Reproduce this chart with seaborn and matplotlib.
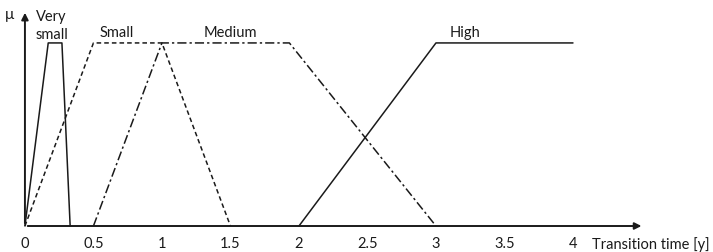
import matplotlib
matplotlib.use("Agg")
import matplotlib.pyplot as plt
import seaborn as sns

# membership functions (x = transition time in years, y = mu)
very_small_x = [0, 0.17, 0.27, 0.33]
very_small_y = [0, 1, 1, 0]
small_x = [0, 0.5, 1.0, 1.5]
small_y = [0, 1, 1, 0]
medium_x = [0.5, 1.0, 1.93, 3.0]
medium_y = [0, 1, 1, 0]
high_x = [2.0, 3.0, 4.0]
high_y = [0, 1, 1]

tick_vals = [0, 0.5, 1, 1.5, 2, 2.5, 3, 3.5, 4]
tick_labels = ["0", "0.5", "1", "1.5", "2", "2.5", "3", "3.5", "4"]

sns.set_theme(style="white")
plt.rcParams['font.family'] = ['Lato', 'DejaVu Sans']

fig = plt.figure(figsize=(7.13, 2.53), dpi=100)
ax = fig.add_axes([0, 0, 1, 1])
ax.set_xlim(-0.182, 5.022)
ax.set_ylim(-0.142, 1.240)
ax.axis('off')

lc = '#1a1a1a'
lw = 1.1
sns.lineplot(x=very_small_x, y=very_small_y, sort=False, ax=ax, color=lc, lw=lw, linestyle='-')
sns.lineplot(x=small_x, y=small_y, sort=False, ax=ax, color=lc, lw=lw, linestyle=(0, (3, 2)))
sns.lineplot(x=medium_x, y=medium_y, sort=False, ax=ax, color=lc, lw=lw, linestyle=(0, (6, 2, 1.5, 2)))
sns.lineplot(x=high_x, y=high_y, sort=False, ax=ax, color=lc, lw=lw, linestyle='-')

# axes with arrows
ax.annotate('', xy=(4.52, 0), xytext=(0, 0),
            arrowprops=dict(arrowstyle='-|>', color=lc, lw=1.4, mutation_scale=10))
ax.annotate('', xy=(0, 1.18), xytext=(0, 0),
            arrowprops=dict(arrowstyle='-|>', color=lc, lw=1.4, mutation_scale=10))

fs = 10.5
for v, t in zip(tick_vals, tick_labels):
    ax.text(v, -0.095, t, ha='center', va='center', fontsize=fs, color=lc)
ax.text(4.14, -0.095, 'Transition time [y]', ha='left', va='center', fontsize=fs, color=lc)
ax.text(-0.08, 1.16, 'μ', ha='right', va='center', fontsize=fs + 0.5, color=lc)
ax.text(0.08, 1.10, 'Very\nsmall', ha='left', va='center', fontsize=fs, color=lc,
        linespacing=1.35)
ax.text(0.67, 1.06, 'Small', ha='center', va='center', fontsize=fs, color=lc)
ax.text(1.50, 1.06, 'Medium', ha='center', va='center', fontsize=fs, color=lc)
ax.text(3.21, 1.06, 'High', ha='center', va='center', fontsize=fs, color=lc)

plt.savefig('out.png', dpi=100, facecolor='white')
